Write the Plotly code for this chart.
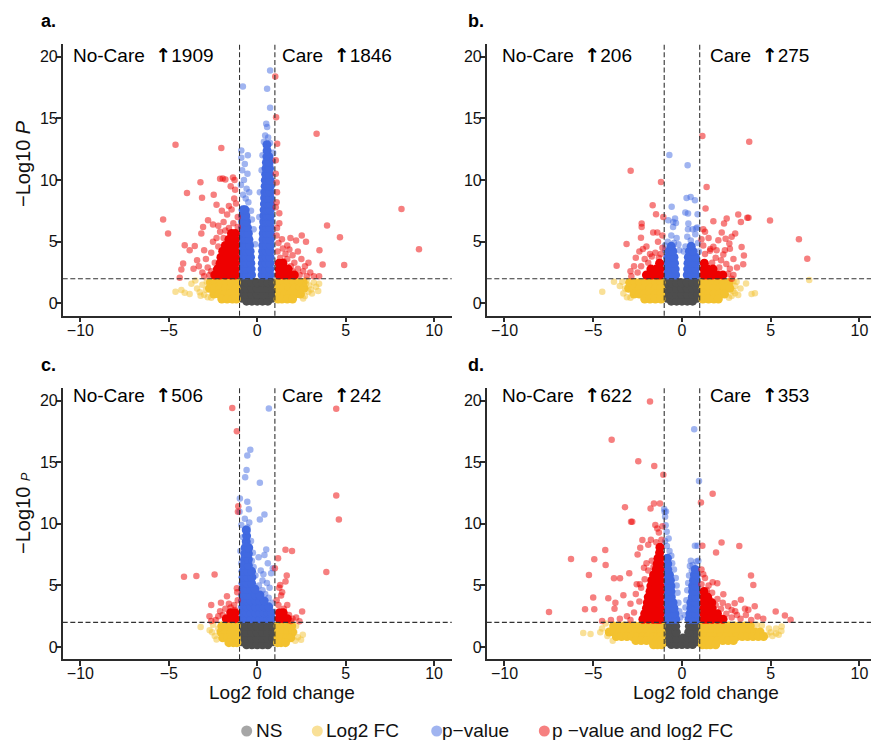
import plotly.graph_objects as go

W, H = 871, 740
FONT = "Liberation Sans, Arial, Helvetica, sans-serif"

# ---- labels and counts -------------------------------------------------
PANEL_TAGS = ["a.", "b.", "c.", "d."]
UP_NOCARE = [1909, 206, 506, 622]
UP_CARE = [1846, 275, 242, 353]
X_TICKS = [-10, -5, 0, 5, 10]
Y_TICKS = [0, 5, 10, 15, 20]
FC_CUTOFF = 1.0
P_CUTOFF = 2.0
LEGEND_LABELS = ["NS", "Log2 FC", "p\u2212value", "p \u2212value and log2 FC"]

# ---- points: dense clusters as rows (y, [x ...]); scattered as (x, y) ---
A_NS_ROWS = [
    (0.18, [-0.6, -0.3, 0.0, 0.3, 0.6]),
    (0.42, [-0.88, 0.88]),
    (0.72, [-0.88, -0.6, -0.3, 0.0, 0.3, 0.6, 0.88]),
    (1.2, [-0.88, -0.6, -0.3, 0.0, 0.3, 0.6, 0.88]),
    (1.68, [-0.88, -0.6, -0.3, 0.0, 0.3, 0.6, 0.88]),
]
A_FC_ROWS = [
    (1.7, [-2.65, -2.35, -2.05, -1.75, -1.45, -1.18, 1.18, 1.45, 1.75, 2.05, 2.35, 2.6]),
    (1.22, [-2.7, -2.4, -2.1, -1.8, -1.5, -1.2, 1.2, 1.5, 1.8, 2.1, 2.4, 2.65]),
    (0.75, [-2.45, -2.15, -1.85, -1.55, -1.25, 1.25, 1.55, 1.85, 2.15, 2.45]),
    (0.35, [-2.0, -1.7, -1.4, -1.18, 1.18, 1.4, 1.7, 2.0]),
]
A_FC_PTS = [(-4.62, 0.94), (-4.29, 1.08), (-4.1, 0.86), (-3.82, 0.75), (-3.72, 1.6), (-3.4, 1.2),
            (-3.25, 0.9), (-3.1, 1.5), (-3.0, 0.7), (-2.9, 1.1), (-3.5, 1.85), (-2.85, 1.75),
            (-2.8, 0.5), (-2.6, 0.45), (-3.2, 0.62), (2.76, 1.62), (3.05, 1.13), (3.33, 1.35),
            (2.9, 0.95), (2.8, 1.9), (3.2, 1.7), (2.7, 0.6), (3.5, 1.6), (2.95, 1.45), (2.6, 0.4),
            (3.1, 0.8), (3.45, 1.0)]
A_P_ROWS = [
    (2.3, [-0.82, -0.58, -0.32, 0.28, 0.5, 0.73]),
    (2.78, [-0.82, -0.6, -0.34, 0.28, 0.5, 0.73]),
    (3.26, [-0.82, -0.6, -0.36, 0.29, 0.51, 0.73]),
    (3.74, [-0.82, -0.62, -0.38, 0.3, 0.52, 0.73]),
    (4.22, [-0.82, -0.62, -0.4, 0.31, 0.52, 0.73]),
    (4.7, [-0.82, -0.64, -0.43, 0.32, 0.53, 0.74]),
    (5.18, [-0.82, -0.66, -0.47, 0.33, 0.53, 0.74]),
    (5.66, [-0.82, -0.68, -0.5, 0.34, 0.54, 0.74]),
    (6.14, [-0.82, -0.55, 0.35, 0.55, 0.74]),
    (6.62, [-0.82, -0.6, 0.37, 0.56, 0.74]),
    (7.1, [-0.82, -0.64, 0.38, 0.56, 0.74]),
    (7.58, [-0.8, -0.68, 0.39, 0.57, 0.74]),
    (8.06, [0.41, 0.58, 0.74]),
    (8.54, [0.42, 0.58, 0.74]),
    (9.02, [0.43, 0.59, 0.74]),
    (9.5, [0.45, 0.6, 0.74]),
    (9.98, [0.46, 0.6, 0.73]),
    (10.46, [0.48, 0.7]),
    (10.94, [0.5, 0.7]),
    (11.42, [0.52, 0.68]),
    (11.9, [0.55, 0.66]),
    (12.38, [0.56]),
    (12.86, [0.55]),
]
A_P_PTS = [(0.73, 18.87), (-0.81, 17.57), (0.56, 17.39), (0.73, 15.85), (0.51, 14.56), (0.56, 14.29),
           (0.45, 13.6), (0.62, 13.45), (0.38, 13.1), (0.72, 13.0), (-0.9, 12.4), (-0.53, 12.0),
           (-0.9, 11.8), (-0.7, 11.3), (-0.85, 10.8), (-0.55, 10.5), (-0.75, 10.0), (-0.92, 9.6),
           (-0.6, 9.3), (-0.45, 9.0), (-0.8, 8.8), (-0.65, 8.5), (-0.5, 8.2), (-0.35, 7.5),
           (-0.3, 6.8), (-0.2, 6.0), (-0.12, 4.8), (0.85, 11.6), (0.9, 12.2), (0.3, 12.0),
           (0.25, 10.8), (0.15, 9.0), (0.12, 7.0)]
A_PFC_ROWS = [
    (2.3, [-2.4, -2.1, -1.8, -1.5, -1.24, 1.24, 1.5, 1.8, 2.1]),
    (2.78, [-2.25, -1.95, -1.7, -1.45, -1.24, 1.24, 1.48, 1.75]),
    (3.26, [-2.1, -1.8, -1.5, -1.24, 1.24, 1.45]),
    (3.74, [-2.05, -1.75, -1.47, -1.24]),
    (4.22, [-1.95, -1.65, -1.42, -1.24]),
    (4.7, [-1.8, -1.5, -1.24]),
    (5.18, [-1.6, -1.4, -1.24]),
    (5.66, [-1.45, -1.24]),
]
A_PFC_PTS = [(-4.62, 12.86), (-2.03, 12.59), (-3.21, 9.81), (-3.97, 8.95), (-3.12, 8.57), (-2.46, 8.81),
             (-2.1, 10.1), (-1.95, 10.12), (-1.8, 10.05), (-1.37, 10.2), (-1.28, 10.0), (-5.32, 6.79),
             (-5.04, 5.66), (-4.1, 4.72), (-3.82, 4.31), (-3.53, 4.64), (-4.19, 3.23), (-4.29, 2.75),
             (-4.38, 2.08), (-2.78, 6.74), (-3.06, 6.2), (-3.16, 5.66), (-2.5, 6.4), (-2.2, 6.3),
             (-1.9, 6.6), (-1.7, 7.2), (-1.45, 7.6), (-1.2, 8.1), (-1.3, 8.5), (-1.1, 7.0), (-1.6, 7.9),
             (-2.0, 7.5), (-2.3, 8.0), (-1.25, 9.2), (-1.5, 9.5), (-1.1, 6.2), (-1.35, 6.5), (-1.6, 6.1),
             (-3.3, 3.0), (-3.1, 2.5), (-3.6, 2.8), (-2.9, 3.6), (-2.6, 4.1), (-2.5, 5.0), (-2.3, 5.3),
             (-2.7, 2.3), (-3.0, 4.3), (-2.1, 5.8), (-1.8, 5.9), (-3.4, 3.5), (-2.4, 3.3), (-2.8, 2.9),
             (-3.0, 2.2), (-2.6, 2.6), (-2.2, 4.6), (-1.9, 5.3),
             (1.02, 18.38), (1.07, 15.09), (3.36, 13.75), (1.13, 12.94), (1.05, 11.6), (1.05, 10.5),
             (1.1, 9.8), (1.12, 9.0), (1.1, 8.2), (1.25, 7.3), (1.12, 6.1), (1.05, 7.8), (8.16, 7.65),
             (9.15, 4.39), (3.95, 6.31), (4.68, 5.36), (4.92, 3.1), (3.52, 4.31), (3.7, 3.15), (1.88, 5.3),
             (2.52, 5.5), (2.76, 4.99), (2.2, 5.1), (1.45, 4.45), (1.82, 4.37), (1.6, 4.0), (2.0, 3.9),
             (2.3, 4.2), (2.5, 3.6), (2.1, 3.3), (1.3, 3.7), (1.5, 3.4), (1.9, 3.0), (2.3, 2.8), (2.6, 2.6),
             (2.8, 2.2), (3.0, 2.5), (3.2, 2.2), (2.4, 2.3), (1.2, 4.9), (1.4, 5.2), (1.7, 4.7), (2.9, 3.3),
             (3.5, 2.2), (1.25, 6.5), (1.1, 5.5), (1.15, 4.2), (2.7, 3.0), (2.0, 2.6), (1.7, 3.6)]

B_NS_ROWS = [
    (0.18, [-0.6, -0.3, 0.0, 0.3, 0.6]),
    (0.42, [-0.88, 0.88]),
    (0.72, [-0.88, -0.6, -0.3, 0.0, 0.3, 0.6, 0.88]),
    (1.2, [-0.88, -0.6, -0.3, 0.0, 0.3, 0.6, 0.88]),
    (1.68, [-0.88, -0.6, -0.3, 0.0, 0.3, 0.6, 0.88]),
]
B_FC_ROWS = [
    (1.7, [-2.95, -2.65, -2.35, -2.05, -1.75, -1.45, -1.18, 1.18, 1.45, 1.75, 2.05, 2.35, 2.65]),
    (1.22, [-3.0, -2.7, -2.4, -2.1, -1.8, -1.5, -1.2, 1.2, 1.5, 1.8, 2.1, 2.4, 2.7]),
    (0.75, [-2.7, -2.4, -2.1, -1.8, -1.5, -1.2, 1.2, 1.5, 1.8, 2.1, 2.4]),
    (0.35, [-2.1, -1.8, -1.5, -1.18, 1.18, 1.5, 1.8, 2.05]),
]
B_FC_PTS = [(-4.49, 0.94), (-3.83, 1.75), (-3.36, 1.75), (-3.2, 1.2), (-3.3, 0.8), (-3.1, 0.5),
            (-3.5, 1.4), (-2.9, 0.45), (3.08, 1.75), (3.61, 1.62), (2.9, 1.0), (2.99, 0.81), (3.17, 0.67),
            (3.92, 0.75), (4.11, 0.81), (7.17, 1.89), (3.0, 1.4), (2.8, 0.6), (3.3, 1.2), (2.65, 0.45),
            (2.9, 1.8)]
B_P_ROWS = [
    (2.3, [-0.82, -0.6, -0.36, 0.3, 0.53, 0.76]),
    (2.78, [-0.82, -0.6, -0.38, 0.32, 0.54, 0.76]),
    (3.26, [-0.82, -0.6, -0.42, 0.34, 0.56, 0.76]),
    (3.74, [-0.8, -0.6, -0.45, 0.36, 0.58, 0.76]),
    (4.22, [-0.72, -0.52, 0.42, 0.62]),
    (4.62, [-0.6, 0.52]),
]
B_P_PTS = [(-0.71, 12.02), (0.32, 11.19), (0.26, 8.54), (0.49, 8.63), (0.73, 8.36), (-0.58, 7.84),
           (0.19, 7.36), (0.34, 7.28), (0.88, 7.22), (-0.77, 6.74), (-0.49, 6.6), (-0.39, 6.87),
           (-0.34, 6.52), (0.36, 6.47), (0.86, 6.15), (0.79, 6.06), (-0.5, 6.2), (0.34, 6.0), (0.6, 6.0),
           (-0.6, 5.5), (-0.3, 5.3), (-0.8, 5.0), (0.3, 5.4), (0.5, 5.1), (0.75, 5.6), (0.9, 4.9),
           (-0.95, 4.7), (-0.2, 4.8), (0.2, 4.6), (-0.45, 4.9), (0.55, 4.6), (0.95, 4.2), (-0.95, 4.3),
           (0.1, 4.2), (-0.15, 4.3)]
B_PFC_ROWS = [
    (2.3, [-2.0, -1.7, -1.45, -1.24, 1.24, 1.45, 1.7, 2.0, 2.3]),
    (2.78, [-1.75, -1.45, -1.24, 1.24, 1.45, 1.75]),
    (3.26, [-1.26, 1.26]),
]
B_PFC_PTS = [(1.15, 13.56), (3.79, 13.1), (-2.89, 10.75), (-1.18, 9.84), (1.39, 9.43), (-1.65, 7.95),
             (1.33, 7.68), (-1.46, 7.22), (-1.05, 7.0), (3.17, 7.2), (3.68, 6.95), (3.75, 6.95),
             (4.96, 6.71), (2.52, 6.87), (1.77, 6.66), (3.32, 6.6), (2.37, 6.47), (-2.27, 6.47),
             (-2.27, 6.2), (6.59, 5.2), (7.06, 3.61), (-3.12, 4.82), (-3.68, 3.05), (-2.31, 5.31),
             (-1.62, 5.74), (-1.39, 5.74), (-1.1, 5.5), (3.0, 5.66), (2.8, 5.39), (2.46, 5.23),
             (2.24, 5.74), (2.05, 5.12), (1.77, 4.58), (3.36, 4.56), (3.49, 3.88), (3.45, 3.18),
             (2.7, 4.42), (2.42, 4.31), (2.33, 3.96), (1.95, 4.31), (1.58, 4.26), (2.67, 4.85), (1.2, 6.0),
             (1.3, 5.8), (1.1, 5.2), (1.5, 5.3), (1.2, 4.7), (-2.0, 4.6), (-2.2, 4.4), (-2.4, 4.2),
             (-1.8, 4.0), (-2.6, 3.7), (-2.1, 3.6), (-2.9, 2.6), (-2.7, 3.0), (-2.5, 2.5), (-2.3, 3.0),
             (-1.9, 3.3), (-1.5, 4.1), (-1.2, 4.0), (-1.3, 3.7), (-1.7, 3.8), (-1.1, 4.5), (-1.35, 5.0),
             (-2.85, 2.2), (2.5, 3.2), (2.7, 2.8), (2.9, 2.3), (2.6, 2.4), (3.1, 2.9), (2.2, 3.5),
             (1.9, 3.7), (1.7, 3.3), (2.1, 2.9), (1.3, 4.0), (1.6, 4.4), (2.9, 3.6), (2.8, 2.0)]

C_NS_ROWS = [
    (0.18, [-0.6, -0.3, 0.0, 0.3, 0.6]),
    (0.42, [-0.88, 0.88]),
    (0.72, [-0.88, -0.6, -0.3, 0.0, 0.3, 0.6, 0.88]),
    (1.2, [-0.88, -0.6, -0.3, 0.0, 0.3, 0.6, 0.88]),
    (1.68, [-0.88, -0.6, -0.3, 0.0, 0.3, 0.6, 0.88]),
]
C_FC_ROWS = [
    (1.7, [-2.0, -1.72, -1.45, -1.18, 1.18, 1.45, 1.72, 1.95]),
    (1.22, [-2.05, -1.75, -1.47, -1.2, 1.2, 1.47, 1.75, 2.0]),
    (0.75, [-1.95, -1.68, -1.42, -1.18, 1.18, 1.42, 1.68, 1.9]),
    (0.35, [-1.6, -1.35, -1.15, 1.15, 1.35, 1.6]),
]
C_FC_PTS = [(-3.2, 1.62), (-2.69, 1.35), (-2.5, 1.8), (-2.4, 0.9), (-2.3, 0.6), (-2.55, 1.2),
            (-2.2, 1.5), (2.1, 1.19), (2.58, 1.0), (2.48, 0.59), (2.2, 1.7), (2.3, 0.8), (2.15, 0.5)]
C_P_ROWS = [
    (2.3, [-0.82, -0.6, -0.35, -0.1, 0.15, 0.4, 0.62, 0.8]),
    (2.78, [-0.82, -0.6, -0.35, -0.1, 0.15, 0.4, 0.62, 0.8]),
    (3.26, [-0.82, -0.6, -0.35, -0.1, 0.15, 0.4, 0.65]),
    (3.74, [-0.82, -0.6, -0.35, -0.1, 0.15, 0.4]),
    (4.22, [-0.82, -0.6, -0.35, -0.1, 0.15]),
    (4.7, [-0.82, -0.6, -0.35, -0.12]),
    (5.18, [-0.8, -0.58, -0.32]),
    (5.66, [-0.8, -0.55, -0.3]),
    (6.14, [-0.8, -0.55, -0.32]),
    (6.62, [-0.75, -0.5]),
    (7.1, [-0.72, -0.5]),
    (7.58, [-0.7, -0.5]),
    (8.06, [-0.68, -0.48]),
    (8.54, [-0.62]),
    (9.02, [-0.6]),
    (9.5, [-0.62]),
]
C_P_PTS = [(0.66, 19.35), (-0.39, 16.01), (-0.56, 15.55), (-0.6, 14.37), (-0.68, 13.77), (0.15, 13.34),
           (-0.98, 12.05), (-1.0, 10.97), (-0.56, 11.78), (-0.47, 11.19), (0.41, 10.75), (0.15, 10.35),
           (0.51, 7.92), (0.41, 7.47), (0.08, 7.28), (-0.24, 7.65), (0.88, 6.39), (0.79, 5.98),
           (-0.9, 9.9), (-0.55, 9.7), (-0.45, 10.1), (-0.7, 10.4), (-0.55, 9.4), (-0.8, 8.9),
           (-0.35, 8.6), (-0.3, 7.0), (-0.2, 6.5), (0.2, 6.2), (0.3, 5.4), (0.55, 5.2), (0.7, 4.8),
           (0.1, 5.0), (-0.1, 5.8), (0.45, 4.3), (0.65, 4.0), (0.85, 3.6), (0.3, 4.6), (-0.95, 7.8),
           (-0.9, 6.8), (0.35, 5.9), (0.6, 6.8)]
C_PFC_ROWS = [
    (2.3, [-1.75, -1.47, -1.24, 1.24, 1.47, 1.7]),
    (2.78, [-1.5, -1.26, 1.26, 1.47]),
]
C_PFC_PTS = [(-1.41, 19.41), (-1.15, 17.52), (4.47, 19.33), (4.47, 12.29), (4.62, 10.35), (-1.07, 11.43),
             (-1.09, 10.97), (1.6, 7.9), (1.97, 7.79), (1.18, 7.2), (1.0, 6.39), (1.67, 5.8), (1.6, 5.31),
             (1.3, 5.04), (1.41, 4.45), (1.35, 4.18), (3.91, 6.09), (-4.14, 5.71), (-3.44, 5.77),
             (-2.41, 5.88), (-1.15, 4.77), (-1.13, 4.45), (-1.71, 4.12), (-2.05, 3.6), (-2.6, 3.4),
             (-2.1, 2.9), (-1.95, 2.6), (-2.35, 2.2), (-2.6, 2.1), (-1.3, 3.4), (-1.5, 3.2), (-1.25, 3.0),
             (-1.8, 3.1), (-1.6, 3.5), (-2.2, 2.5), (-2.7, 2.5), (-1.1, 3.8), (2.54, 2.88), (2.39, 2.08),
             (1.2, 3.4), (1.5, 3.1), (1.8, 2.6), (2.0, 2.3), (1.1, 3.8), (1.7, 3.4), (2.2, 2.4), (1.3, 2.2),
             (1.9, 2.1), (1.25, 4.8)]

D_NS_ROWS = [
    (0.2, [-0.6, -0.3, 0.0, 0.3, 0.6]),
    (0.42, [-0.88, 0.88]),
    (0.72, [-0.88, -0.6, -0.3, 0.05, 0.35, 0.62, 0.88]),
    (1.2, [-0.88, -0.6, -0.32, 0.38, 0.64, 0.88]),
    (1.68, [-0.88, -0.6, -0.35, 0.42, 0.66, 0.88]),
]
D_FC_ROWS = [
    (1.7, [-3.85, -3.55, -3.25, -2.95, -2.65, -2.35, -2.05, -1.75, -1.45, -1.18,
           1.18, 1.45, 1.75, 2.05, 2.35, 2.65, 2.95, 3.25, 3.55, 3.85]),
    (1.22, [-4.1, -3.8, -3.5, -3.2, -2.9, -2.6, -2.3, -2.0, -1.7, -1.42, -1.18,
            1.18, 1.42, 1.7, 2.0, 2.3, 2.6, 2.9, 3.2, 3.5, 3.8, 4.1, 4.4]),
    (0.85, [-3.7, -3.4, -3.1, -2.8, -2.5, -2.2, -1.9, -1.6, -1.38, -1.18,
            1.18, 1.38, 1.6, 1.9, 2.2, 2.5, 2.8, 3.1, 3.4, 3.7, 4.0, 4.3, 4.6]),
    (0.52, [-2.6, -2.3, -2.0, -1.7, -1.42, -1.18, 1.18, 1.42, 1.7, 2.0, 2.3, 2.6, 2.9]),
    (0.18, [-1.6, -1.38, -1.15, 1.15, 1.38, 1.6, 1.9]),
]
D_FC_PTS = [(-5.56, 1.13), (-5.15, 1.05), (-4.5, 1.5), (-4.3, 1.9), (-4.6, 1.2), (-4.2, 0.9), (-3.9, 0.5),
            (5.62, 1.67), (5.3, 1.1), (5.45, 1.0), (5.0, 1.2), (5.1, 0.9), (4.9, 1.5), (5.3, 1.5),
            (4.5, 1.75), (4.2, 1.8), (5.6, 1.3), (4.8, 1.0)]
D_P_ROWS = [
    (2.25, [-0.8, -0.58, -0.35, 0.4, 0.62, 0.8]),
    (2.7, [-0.8, -0.6, -0.4, 0.45, 0.65, 0.8]),
    (3.15, [-0.8, -0.6, -0.45, 0.5, 0.68, 0.8]),
    (3.6, [-0.8, -0.6, -0.5, 0.5, 0.7, 0.8]),
    (4.05, [-0.8, -0.6, 0.58, 0.78]),
    (4.5, [-0.8, -0.62, 0.6, 0.78]),
    (4.95, [-0.8, -0.62, 0.6, 0.8]),
    (5.4, [-0.8, -0.65, 0.65, 0.8]),
    (5.85, [-0.8, -0.7, 0.7, 0.8]),
    (6.3, [-0.8, 0.75]),
    (6.75, [-0.8]),
    (7.2, [-0.82]),
]
D_P_PTS = [(0.69, 17.68), (0.96, 13.48), (-1.0, 11.2), (-0.98, 10.97), (-0.95, 10.57), (-0.92, 9.89),
           (-0.86, 9.35), (0.73, 8.22), (0.88, 8.22), (0.45, 6.58), (0.6, 6.66), (0.83, 6.93), (0.92, 7.0),
           (-0.95, 8.6), (-0.85, 8.2), (-0.7, 7.8), (-0.6, 7.4), (-0.55, 6.8), (-0.45, 6.3), (-0.35, 5.6),
           (-0.3, 5.0), (-0.25, 4.4), (0.3, 4.6), (0.35, 5.2), (0.4, 5.8), (0.25, 3.8), (-0.2, 3.6),
           (0.2, 3.2), (-0.15, 2.9), (0.15, 2.6), (-0.1, 2.4), (0.55, 6.2), (-0.75, 8.8), (-0.9, 11.0),
           (0.5, 7.0)]
D_PFC_ROWS = [
    (2.25, [-2.2, -1.9, -1.62, -1.4, -1.24, 1.24, 1.45, 1.7, 2.0, 2.3]),
    (2.7, [-2.1, -1.8, -1.52, -1.24, 1.24, 1.45, 1.7, 2.0]),
    (3.15, [-2.0, -1.7, -1.45, -1.24, 1.24, 1.45, 1.7]),
    (3.6, [-1.95, -1.65, -1.42, -1.24, 1.24, 1.45, 1.68]),
    (4.05, [-1.9, -1.6, -1.4, -1.24, 1.24, 1.45]),
    (4.5, [-1.8, -1.5, -1.24, 1.24]),
    (4.95, [-1.75, -1.48, -1.24]),
    (5.4, [-1.7, -1.45, -1.24]),
    (5.85, [-1.6, -1.4, -1.24]),
    (6.3, [-1.45, -1.24]),
    (6.75, [-1.4, -1.24]),
    (7.2, [-1.35, -1.24]),
    (7.65, [-1.26]),
    (8.1, [-1.24]),
]
D_PFC_PTS = [(-1.8, 19.92), (-3.96, 16.82), (-2.46, 15.07), (-1.56, 14.69), (-1.05, 13.99), (1.73, 12.43),
             (1.07, 11.73), (-3.21, 11.35), (-1.58, 11.64), (-1.24, 11.64), (-1.77, 11.24), (-2.87, 10.16),
             (-2.8, 10.16), (-1.39, 9.62), (-1.3, 9.3), (-1.1, 9.8), (-2.23, 8.68), (-2.35, 8.06),
             (-1.75, 8.7), (-1.9, 8.3), (-1.45, 8.5), (-4.32, 7.87), (-6.25, 7.14), (-4.94, 7.12),
             (-4.3, 6.66), (-5.24, 5.85), (-3.83, 5.58), (-3.49, 5.58), (-2.97, 5.98), (-2.14, 6.44),
             (-2.55, 5.09), (-2.37, 5.09), (1.15, 8.22), (2.23, 8.49), (3.23, 8.19), (1.92, 7.68),
             (3.89, 5.8), (4.02, 5.04), (1.73, 5.26), (1.99, 5.18), (2.33, 4.29), (3.32, 3.83),
             (2.97, 3.56), (3.55, 3.1), (3.74, 3.02), (4.26, 2.48), (4.58, 2.29), (5.28, 2.88),
             (5.8, 2.56), (6.12, 2.21), (-7.49, 2.83), (-5.46, 3.07), (-4.94, 3.07), (-5.0, 4.02),
             (-4.15, 3.96), (-3.8, 3.1), (-3.75, 3.6), (-3.3, 4.2), (-2.9, 3.5), (-2.6, 4.3), (-2.4, 3.7),
             (-2.7, 2.8), (-3.1, 2.5), (-3.5, 2.3), (-4.0, 2.2), (-4.5, 2.1), (-2.9, 2.2), (-2.3, 4.8),
             (-2.1, 5.5), (-2.0, 6.8), (-1.7, 7.0), (-1.6, 6.5), (-1.9, 6.2), (-2.5, 7.5), (-1.5, 9.9),
             (-1.15, 8.7), (1.1, 6.3), (1.2, 5.9), (1.3, 5.6), (1.1, 5.1), (1.5, 5.0), (1.4, 4.6),
             (1.7, 4.4), (2.0, 3.9), (2.3, 3.6), (2.6, 3.3), (2.5, 2.7), (2.8, 2.4), (3.1, 2.6), (3.3, 2.3),
             (3.6, 2.6), (3.9, 2.2), (2.8, 3.0), (2.2, 3.1), (1.9, 3.4), (4.1, 3.3), (3.0, 2.9), (2.4, 2.3),
             (1.6, 3.8)]

# ---- styling -----------------------------------------------------------
COLORS = {"NS": "#4D4D4D", "FC": "#F3C22F", "P": "#4169E1", "PFC": "#EE0000"}
CORE_SIZE = 9
PT_SIZE = 6.5
PT_ALPHA = 0.5
AXIS_COLOR = "#2b2b2b"
TEXT_COLOR = "#111111"


def px_x(px):
    return px / W


def px_y(py):
    return 1 - py / H


# panel boxes in pixels: left, right, top, bottom
PANEL_BOX = [(62.7, 451.7, 44.3, 315.7), (486.7, 871.0, 44.3, 315.7),
             (62.7, 451.7, 388.3, 659.3), (486.7, 871.0, 388.3, 659.3)]
X_RANGES = [[-11, 11], [-11, 10.65], [-11, 11], [-11, 10.65]]
Y_RANGE = [-1, 21]
LEFT_TEXT_X = [-10.45, -10.2, -10.45, -10.2]
RIGHT_TEXT_X = [1.33, 1.55, 1.35, 1.55]
TEXT_Y = [20.15, 20.15, 20.43, 20.43]

PANELS = [
    (A_NS_ROWS, A_FC_ROWS, A_FC_PTS, A_P_ROWS, A_P_PTS, A_PFC_ROWS, A_PFC_PTS),
    (B_NS_ROWS, B_FC_ROWS, B_FC_PTS, B_P_ROWS, B_P_PTS, B_PFC_ROWS, B_PFC_PTS),
    (C_NS_ROWS, C_FC_ROWS, C_FC_PTS, C_P_ROWS, C_P_PTS, C_PFC_ROWS, C_PFC_PTS),
    (D_NS_ROWS, D_FC_ROWS, D_FC_PTS, D_P_ROWS, D_P_PTS, D_PFC_ROWS, D_PFC_PTS),
]


def rows_to_xy(rows):
    xs, ys = [], []
    for y, xlist in rows:
        for x in xlist:
            xs.append(x)
            ys.append(y)
    return xs, ys


def blend_white(hexcol, a):
    r, g, b = (int(hexcol[i:i + 2], 16) for i in (1, 3, 5))
    mix = lambda c: round(c * a + 255 * (1 - a))
    return "#{:02X}{:02X}{:02X}".format(mix(r), mix(g), mix(b))


fig = go.Figure()
shapes = []
annotations = []
ARROW = "<b><span style=\"font-family:DejaVu Sans\">\u2191</span></b>"

for i, (ns_rows, fc_rows, fc_pts, p_rows, p_pts, pfc_rows, pfc_pts) in enumerate(PANELS):
    n = "" if i == 0 else str(i + 1)
    xa, ya = "x" + n, "y" + n

    def dense(rows, col):
        xs, ys = rows_to_xy(rows)
        fig.add_trace(go.Scatter(x=xs, y=ys, mode="markers", xaxis=xa, yaxis=ya,
                                 marker=dict(size=CORE_SIZE, color=col, line=dict(width=0)),
                                 showlegend=False, hoverinfo="skip"))

    def loose(pts, col):
        fig.add_trace(go.Scatter(x=[p[0] for p in pts], y=[p[1] for p in pts], mode="markers",
                                 xaxis=xa, yaxis=ya,
                                 marker=dict(size=PT_SIZE, color=col, opacity=PT_ALPHA,
                                             line=dict(width=0)),
                                 showlegend=False, hoverinfo="skip"))

    dense(ns_rows, COLORS["NS"])
    dense(fc_rows, COLORS["FC"])
    loose(fc_pts, COLORS["FC"])
    dense(p_rows, COLORS["P"])
    loose(p_pts, COLORS["P"])
    dense(pfc_rows, COLORS["PFC"])
    loose(pfc_pts, COLORS["PFC"])

    left, right, top, bottom = PANEL_BOX[i]
    axis_common = dict(showline=True, linecolor=AXIS_COLOR, linewidth=1.5, ticks="outside",
                       ticklen=5, tickwidth=1.5, tickcolor=AXIS_COLOR, showgrid=False,
                       zeroline=False, tickfont=dict(family=FONT, size=16, color=TEXT_COLOR))
    fig.layout["xaxis" + n] = dict(domain=[px_x(left), px_x(right)], range=X_RANGES[i],
                                   anchor=ya, tickvals=X_TICKS, ticklabelstandoff=-6,
                                   **axis_common)
    fig.layout["yaxis" + n] = dict(domain=[px_y(bottom), px_y(top)], range=Y_RANGE,
                                   anchor=xa, tickvals=Y_TICKS, ticklabelstandoff=-5,
                                   **axis_common)

    line = dict(color="#333333", width=1.1, dash="5px,2.6px")
    for xv in (-FC_CUTOFF, FC_CUTOFF):
        shapes.append(dict(type="line", xref=xa, yref=ya + " domain", x0=xv, x1=xv, y0=0, y1=1,
                           line=line, layer="above"))
    shapes.append(dict(type="line", xref=xa + " domain", yref=ya, x0=0, x1=1, y0=P_CUTOFF,
                       y1=P_CUTOFF, line=line, layer="above"))

    annotations.append(dict(xref=xa, yref=ya, x=LEFT_TEXT_X[i], y=TEXT_Y[i], xanchor="left",
                            yanchor="middle", showarrow=False, borderpad=0,
                            text="No-Care \u00a0" + ARROW + str(UP_NOCARE[i]),
                            font=dict(family=FONT, size=19, color="#000000")))
    annotations.append(dict(xref=xa, yref=ya, x=RIGHT_TEXT_X[i], y=TEXT_Y[i], xanchor="left",
                            yanchor="middle", showarrow=False, borderpad=0,
                            text="Care \u00a0" + ARROW + str(UP_CARE[i]),
                            font=dict(family=FONT, size=19, color="#000000")))

    tag_x = 40 if i in (0, 2) else 467.3
    tag_y = 20.7 if i < 2 else 365
    annotations.append(dict(xref="paper", yref="paper", x=px_x(tag_x), y=px_y(tag_y),
                            xanchor="left", yanchor="middle", showarrow=False, borderpad=0,
                            text="<b>" + PANEL_TAGS[i] + "</b>",
                            font=dict(family=FONT, size=18, color="#000000")))

# axis titles
annotations.append(dict(xref="paper", yref="paper", x=px_x(23), y=px_y(164), textangle=-90,
                        xanchor="center", yanchor="middle", showarrow=False,
                        text="\u2212Log10 <i>P</i>",
                        font=dict(family=FONT, size=20, color=TEXT_COLOR)))
annotations.append(dict(xref="paper", yref="paper", x=px_x(23), y=px_y(513), textangle=-90,
                        xanchor="center", yanchor="middle", showarrow=False,
                        text="\u2212Log10 <i><span style='font-size:13px'>P</span></i>",
                        font=dict(family=FONT, size=20, color=TEXT_COLOR)))
for cx in (282, 706):
    annotations.append(dict(xref="paper", yref="paper", x=px_x(cx), y=px_y(692),
                            xanchor="center", yanchor="middle", showarrow=False, borderpad=0,
                            text="Log2 fold change",
                            font=dict(family=FONT, size=19, color=TEXT_COLOR)))

# legend row
LEGEND_DOT_X = [246.7, 317.3, 436.7, 544.3]
LEGEND_TEXT_X = [255.0, 325.0, 441.0, 551.0]
LEGEND_Y = 730
for key, dx, tx, lab in zip(["NS", "FC", "P", "PFC"], LEGEND_DOT_X, LEGEND_TEXT_X, LEGEND_LABELS):
    shapes.append(dict(type="circle", xref="paper", yref="paper", xsizemode="pixel",
                       ysizemode="pixel", xanchor=px_x(dx), yanchor=px_y(LEGEND_Y + 1),
                       x0=-5.5, x1=5.5, y0=-5.5, y1=5.5,
                       fillcolor=blend_white(COLORS[key], PT_ALPHA), line=dict(width=0)))
    annotations.append(dict(xref="paper", yref="paper", x=px_x(tx), y=px_y(LEGEND_Y),
                            xanchor="left", yanchor="middle", showarrow=False, borderpad=0,
                            text=lab, font=dict(family=FONT, size=19, color=TEXT_COLOR)))

fig.update_layout(width=W, height=H, autosize=False, margin=dict(l=0, r=0, t=0, b=0),
                  plot_bgcolor="white", paper_bgcolor="white", showlegend=False,
                  shapes=shapes, annotations=annotations)

fig.write_html("out.html")
